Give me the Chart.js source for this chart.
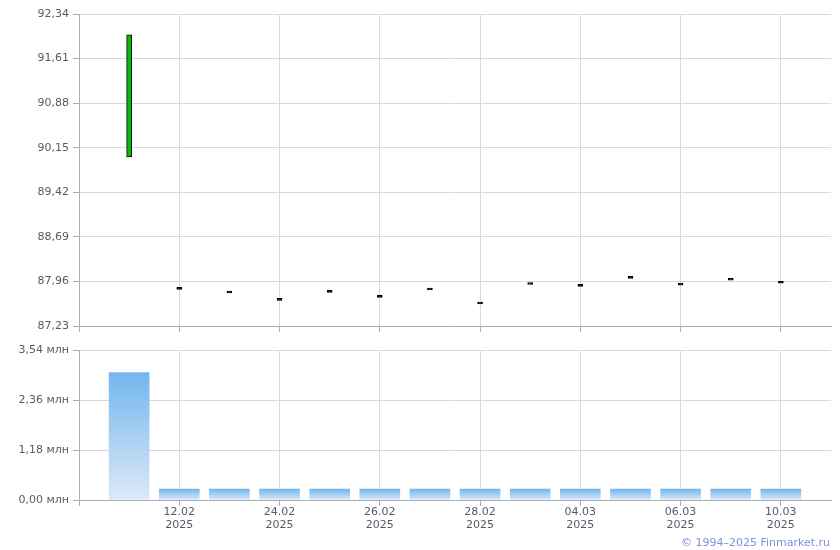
<!DOCTYPE html>
<html>
<head>
<meta charset="utf-8">
<script src="https://cdn.jsdelivr.net/npm/chart.js@4.4.1/dist/chart.umd.min.js"></script>
<style>
  body { margin: 0; background: #fff; }
  #wrap { position: relative; width: 840px; height: 550px; }
  #price { position: absolute; left: 0; top: 0; }
  #vol { position: absolute; left: 0; top: 340px; }
  #copy { position: absolute; right: 10px; top: 536px; font: 11px "DejaVu Sans", Verdana, sans-serif; color: #7a94d8; }
</style>
</head>
<body>
<div id="wrap">
  <canvas id="price" width="840" height="340"></canvas>
  <canvas id="vol" width="840" height="210"></canvas>
  <div id="copy">© 1994–2025 Finmarket.ru</div>
</div>
<script>
// trading days (x = 1..14)
const dates = ["11.02", "12.02", "21.02", "24.02", "25.02", "26.02", "27.02", "28.02", "03.03", "04.03", "05.03", "06.03", "07.03", "10.03"];
const years = ["2025", "2025", "2025", "2025", "2025", "2025", "2025", "2025", "2025", "2025", "2025", "2025", "2025", "2025"];
const openP = [90.00, 87.83, 87.77, 87.65, 87.78, 87.70, 87.82, 87.59, 87.91, 87.88, 88.01, 87.90, 87.98, 87.93];
const closeP = [92.00, 87.83, 87.77, 87.65, 87.78, 87.70, 87.82, 87.59, 87.91, 87.88, 88.01, 87.90, 87.98, 87.93];
const volume = [3020000, 260000, 260000, 260000, 260000, 260000, 260000, 260000, 260000, 260000, 260000, 260000, 260000, 260000];

// tick labels
const priceTicks = [87.23, 87.96, 88.69, 89.42, 90.15, 90.88, 91.61, 92.34];
const volTicks = [0, 1180000, 2360000, 3540000];
const xTicks = [0, 2, 4, 6, 8, 10, 12, 14];

Chart.defaults.font.family = "'DejaVu Sans', Verdana, sans-serif";
Chart.defaults.font.size = 11;
Chart.defaults.color = "#555b66";
Chart.defaults.animation = false;

const gridColor = "#d6dadf";
const axisColor = "#a9adb5";

function comma(v) {
  return v.toFixed(2).replace(".", ",");
}

function xAxis(showLabels) {
  return {
    type: "linear",
    min: 0,
    max: 15,
    offset: false,
    afterBuildTicks: function(scale) {
      scale.ticks = xTicks.map(v => ({ value: v }));
    },
    afterFit: function(scale) {
      scale.height = showLabels ? 50 : 14;
    },
    grid: { color: gridColor, tickColor: axisColor, tickLength: 6, offset: false },
    border: { color: axisColor },
    ticks: {
      display: showLabels,
      padding: 0,
      maxRotation: 0,
      autoSkip: false,
      font: { lineHeight: 1.15 },
      callback: function(v) {
        const i = v - 1;
        return dates[i] ? [dates[i], years[i]] : "";
      }
    }
  };
}

//Price (candles)
{
  const candles = dates.map((d, i) => ({ x: i + 1, y: [openP[i], closeP[i]] }));

  new Chart("price", {
    type: "bar",
    data: {
      datasets: [{
        data: candles,
        barThickness: 5,
        minBarLength: 2,
        borderWidth: 1,
        borderColor: "#000",
        borderSkipped: false,
        backgroundColor: function(ctx) {
          const i = ctx.dataIndex;
          if (closeP[i] > openP[i]) return "#00c000";
          if (closeP[i] < openP[i]) return "#e00000";
          return "#000";
        }
      }]
    },
    options: {
      responsive: false,
      layout: { padding: { top: 14, right: 9, left: 0, bottom: 0 } },
      plugins: { legend: { display: false }, tooltip: { enabled: false } },
      scales: {
        x: xAxis(false),
        y: {
          min: 87.23,
          max: 92.34,
          afterBuildTicks: function(scale) {
            scale.ticks = priceTicks.map(v => ({ value: v }));
          },
          afterFit: function(scale) { scale.width = 79; },
          grid: { color: gridColor, tickColor: axisColor, tickLength: 6 },
          border: { color: axisColor },
          ticks: { padding: 4, callback: v => comma(v) }
        }
      }
    }
  });
}

//Volume
{
  const bars = dates.map((d, i) => ({ x: i + 1, y: volume[i] }));

  new Chart("vol", {
    type: "bar",
    data: {
      datasets: [{
        data: bars,
        barThickness: 40,
        borderWidth: 0,
        backgroundColor: function(ctx) {
          const chart = ctx.chart;
          const y = chart.scales.y;
          if (!y || ctx.type !== "data") return "#8cc4f2";
          const top = y.getPixelForValue(ctx.raw.y);
          const bottom = y.getPixelForValue(0);
          if (!isFinite(top) || !isFinite(bottom)) return "#8cc4f2";
          const g = chart.ctx.createLinearGradient(0, top, 0, bottom);
          g.addColorStop(0, "#72b6ef");
          g.addColorStop(1, "#dde9f7");
          return g;
        }
      }]
    },
    options: {
      responsive: false,
      layout: { padding: { top: 9, right: 9, left: 0, bottom: 0 } },
      plugins: { legend: { display: false }, tooltip: { enabled: false } },
      scales: {
        x: xAxis(true),
        y: {
          min: 0,
          max: 3540000,
          afterBuildTicks: function(scale) {
            scale.ticks = volTicks.map(v => ({ value: v }));
          },
          afterFit: function(scale) { scale.width = 79; },
          grid: { color: gridColor, tickColor: axisColor, tickLength: 6 },
          border: { color: axisColor },
          ticks: { padding: 4, callback: v => comma(v / 1000000) + " млн" }
        }
      }
    }
  });
}
</script>
</body>
</html>
